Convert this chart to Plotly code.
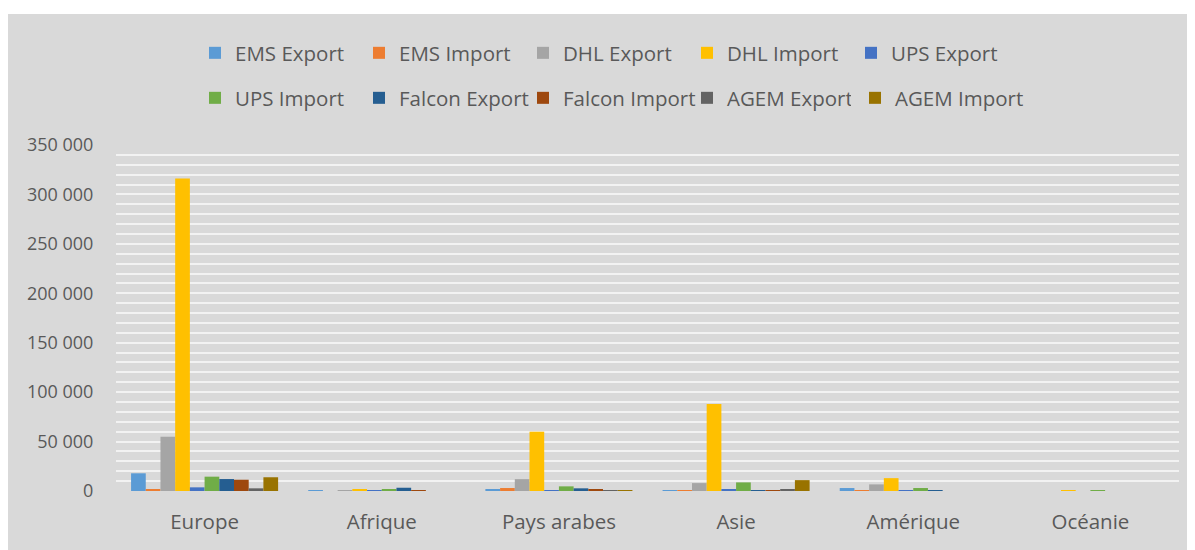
import plotly.graph_objects as go

categories = ["Europe", "Afrique", "Pays arabes", "Asie", "Amérique", "Océanie"]
series_names = ["EMS Export", "EMS Import", "DHL Export", "DHL Import", "UPS Export",
                "UPS Import", "Falcon Export", "Falcon Import", "AGEM Export", "AGEM Import"]
ems_export = [17900, 300, 2000, 300, 3000, 0]
ems_import = [2000, 0, 3000, 300, 300, 0]
dhl_export = [54900, 1000, 12000, 8000, 6700, 0]
dhl_import = [316000, 1300, 60000, 88000, 13000, 200]
ups_export = [3700, 300, 1000, 2000, 300, 0]
ups_import = [14500, 2000, 4700, 8700, 3000, 200]
falcon_export = [12100, 3300, 2700, 300, 600, 0]
falcon_import = [11400, 300, 1700, 300, 0, 0]
agem_export = [2700, 0, 300, 1500, 0, 0]
agem_import = [13900, 0, 600, 11000, 0, 0]
y_tick_values = [0, 50000, 100000, 150000, 200000, 250000, 300000, 350000]

series_values = [ems_export, ems_import, dhl_export, dhl_import, ups_export,
                 ups_import, falcon_export, falcon_import, agem_export, agem_import]
colors = ["#5b9bd5", "#ed7d31", "#a5a5a5", "#ffc000", "#4472c4",
          "#70ad47", "#255e91", "#9e480e", "#636363", "#997300"]

FONT = "Open Sans"
TXT = "#595959"

fig = go.Figure()
for i, (name, vals, col) in enumerate(zip(series_names, series_values, colors)):
    if i < 5:
        lg = "legend"
    elif i < 9:
        lg = "legend2"
    else:
        lg = "legend3"
    fig.add_trace(go.Bar(
        x=categories, y=vals, name=name,
        marker=dict(color=col, line=dict(width=0)),
        legend=lg,
    ))

# page body has an 8px margin, so the figure is placed at (8, 8)
W, H = 1187, 542
ml, mr, mt, mb = 108, 16, 137, 59
pw, ph = W - ml - mr, H - mt - mb

def px_x(p):
    return (p - ml) / pw

def px_y(p):
    return (H - mb - p) / ph

fig.add_shape(type="rect", xref="paper", yref="paper",
              x0=px_x(0), x1=px_x(1200), y0=px_y(560), y1=px_y(6),
              fillcolor="#d9d9d9", line=dict(width=0), layer="below")

legend_common = dict(orientation="h", entrywidthmode="pixels",
                     font=dict(family=FONT, size=20.5, color=TXT),
                     bgcolor="rgba(0,0,0,0)", borderwidth=0,
                     xanchor="left", yanchor="middle", itemclick=False)

fig.update_layout(
    width=W, height=H,
    margin=dict(l=ml, r=mr, t=mt, b=mb, pad=0),
    paper_bgcolor="white",
    plot_bgcolor="rgba(0,0,0,0)",
    barmode="group", bargap=0.17, bargroupgap=0,
    separators=", ",
    font=dict(family=FONT, size=19, color=TXT),
    legend=dict(x=px_x(187), y=px_y(45), entrywidth=119, **legend_common),
    legend2=dict(x=px_x(187), y=px_y(90), entrywidth=119, **legend_common),
    legend3=dict(x=px_x(187 + 4 * 162 + 12), y=px_y(90), entrywidth=0, **legend_common),
    xaxis=dict(showgrid=False, zeroline=False, showline=False,
               ticks="outside", ticklen=12, tickcolor="rgba(0,0,0,0)",
               tickfont=dict(family=FONT, size=20.5, color=TXT)),
    yaxis=dict(range=[0, 350000], tickvals=y_tick_values, tickformat=",d",
               showgrid=False, zeroline=False, showline=False,
               ticks="outside", ticklen=18, tickcolor="rgba(0,0,0,0)",
               tickfont=dict(family=FONT, size=18, color=TXT),
               minor=dict(dtick=10000, showgrid=True, gridcolor="#f2f2f2", gridwidth=2)),
)

fig.write_html("out.html")
